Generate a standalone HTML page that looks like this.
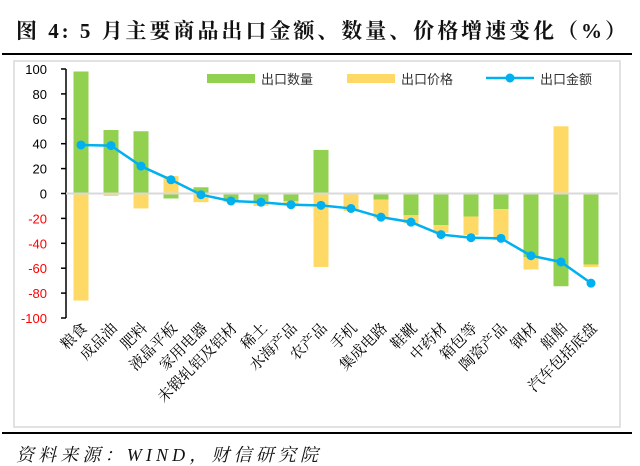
<!DOCTYPE html>
<html><head><meta charset="utf-8"><style>
body{margin:0;background:#fff;width:640px;height:466px;overflow:hidden}
svg{display:block}
</style></head><body>
<svg id="chart" width="640" height="466" xmlns="http://www.w3.org/2000/svg">
<text x="16" y="38" textLength="610" lengthAdjust="spacing" font-family="'Liberation Serif','Noto Serif CJK SC',serif" font-weight="bold" font-size="21" fill="#111">图 4: 5 月主要商品出口金额、数量、价格增速变化（%）</text>
<line x1="2" y1="54" x2="632" y2="54" stroke="#000" stroke-width="2"/>
<rect x="14" y="61" width="606" height="366" fill="#fff" stroke="#d9d9d9" stroke-width="1.5"/>
<line x1="2" y1="433" x2="632" y2="433" stroke="#000" stroke-width="2"/>
<text x="16" y="461" textLength="302" lengthAdjust="spacing" font-family="'Liberation Serif','Noto Serif CJK SC',serif" font-style="italic" font-size="18" fill="#111">资料来源：WIND，财信研究院</text>
<g id="plot"></g>
<g font-family="'Liberation Sans','Noto Sans CJK SC',sans-serif" font-size="13" fill="#333">
<rect x="207" y="74" width="48" height="9" fill="#92d050"/>
<text x="261" y="84">出口数量</text>
<rect x="347" y="74" width="48" height="9" fill="#ffd966"/>
<text x="401" y="84">出口价格</text>
<line x1="486" y1="78" x2="534" y2="78" stroke="#00b0f0" stroke-width="2.5"/>
<circle cx="510" cy="78" r="4.5" fill="#00b0f0"/>
<text x="540" y="84">出口金额</text>
</g>
</svg>
<script>
const categories=["粮食","成品油","肥料","液晶平板","家用电器","未锻轧铝及铝材","稀土","水海产品","农产品","手机","集成电路","鞋靴","中药材","箱包等","陶瓷产品","钢材","船舶","汽车包括底盘"];
const quantity=[98,51,50,-4,5,-6,-6,-6,35,0,-5,-17.5,-25.5,-18.5,-12.5,-51,-74.5,-57];
const price=[-86,-2,-12,14,-7,-1,-4,-3,-59,-14,-15,-6.5,-6,-15,-25,-10,54,-2];
const amount=[39,38.5,22,11,-1,-6,-7,-9,-9.5,-12,-19,-23,-33,-35.5,-36,-50,-55,-72];
const yTicks=[100,80,60,40,20,0,-20,-40,-60,-80,-100];
const NS="http://www.w3.org/2000/svg";
const g=document.getElementById('plot');
const y0=193.5,ppu=1.245,x0=81,step=30,bw=15,axisX=66;
const Y=v=>y0-v*ppu;
const X=i=>x0+i*step;
function mk(t,a){const e=document.createElementNS(NS,t);for(const k in a)e.setAttribute(k,a[k]);g.appendChild(e);return e;}
yTicks.forEach(v=>{
  const t=mk('line',{x1:axisX-5,y1:Y(v),x2:axisX,y2:Y(v),stroke:'#000','stroke-width':1.5});
  
  
  const l=mk('text',{x:axisX-19,y:Y(v)+5,'text-anchor':'end','font-family':'Liberation Sans,sans-serif','font-size':13,fill:v<0?'#ff0000':'#000'});
  l.textContent=v;
  
  
});
const ax=mk('line',{x1:axisX,y1:Y(100),x2:axisX,y2:Y(-100),stroke:'#000','stroke-width':1.5});


categories.forEach((c,i)=>{
  const segs=[[quantity[i],'#92d050','bar-quantity'],[price[i],'#ffd966','bar-price']];
  let pos=0,neg=0;
  segs.forEach(([v,col,nm])=>{
    let top,bot;
    if(v>=0){top=Y(pos+v);bot=Y(pos);pos+=v;}else{top=Y(neg);bot=Y(neg+v);neg+=v;}
    const r=mk('rect',{x:X(i)-bw/2,y:top,width:bw,height:Math.max(0,bot-top),fill:col});
    
    
  });
  const lx=X(i)+7,ly=329;
  const t=mk('text',{x:lx,y:ly,'text-anchor':'end','font-family':'Liberation Serif,Noto Serif CJK SC,serif','font-size':15,fill:'#000',transform:`rotate(-45 ${lx} ${ly})`});
  t.textContent=c;
  
  
});
const zl=mk('line',{x1:axisX,y1:y0,x2:618,y2:y0,stroke:'#d9d9d9','stroke-width':2});


const pl=mk('polyline',{points:amount.map((v,i)=>X(i)+','+Y(v)).join(' '),fill:'none',stroke:'#00b0f0','stroke-width':2.5});


amount.forEach((v,i)=>{
  const c=mk('circle',{cx:X(i),cy:Y(v),r:4.5,fill:'#00b0f0'});
  
  
});
</script>
</body></html>
